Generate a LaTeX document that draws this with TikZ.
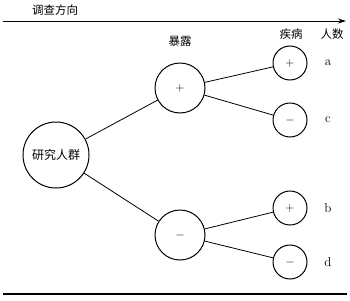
\documentclass[tikz,border=0pt]{standalone}
\usepackage{fontspec}
\newfontfamily\cjk{Noto Sans CJK SC}[Scale=1]
\usetikzlibrary{arrows.meta}
\begin{document}
\begin{tikzpicture}[x=1pt,y=-1pt,
  circ/.style={draw,circle,line width=1pt,inner sep=0pt},
  big/.style={circ,minimum size=66pt},
  mid/.style={circ,minimum size=50pt},
  small/.style={circ,minimum size=34pt},
  lbl/.style={font=\cjk\fontsize{11.5}{12}\selectfont,inner sep=0pt},
  sym/.style={font=\fontsize{12}{12}\selectfont},
  cnt/.style={font=\fontsize{13}{14}\selectfont,inner sep=0pt},
  conn/.style={line width=0.8pt}]
\useasboundingbox (0,0) rectangle (350,300);
\fill[white] (0,0) rectangle (350,300);
% direction arrow
\coordinate (as) at (3,21);
\coordinate (ae) at (346,21);
\draw[line width=1pt,-{Stealth[length=8pt,width=5pt]}] (as) -- (ae);
\node[lbl] (dir) at (55,10) {调查方向};
\node[lbl] (exp) at (180,41) {暴露};
\node[lbl] (dis) at (291,34) {疾病};
\node[lbl] (num) at (332,34) {人数};
% circles
\node[big,font=\cjk\fontsize{12}{12}\selectfont] (pop) at (56,155) {研究人群};
\node[mid,sym] (ep) at (180,88) {$+$};
\node[mid,sym] (em) at (180,235) {$-$};
\node[small,sym] (a1) at (290,63) {$+$};
\node[small,sym] (c1) at (290,120) {$-$};
\node[small,sym] (b1) at (290,208) {$+$};
\node[small,sym] (d1) at (290,262) {$-$};
\node[cnt] (la) at (328,63) {a};
\node[cnt] (lc) at (328,120) {c};
\node[cnt] (lb) at (328,208) {b};
\node[cnt] (ld) at (328,262) {d};
% connectors
\draw[conn] (pop) -- (ep);
\draw[conn] (pop) -- (em);
\draw[conn] (ep) -- (a1);
\draw[conn] (ep) -- (c1);
\draw[conn] (em) -- (b1);
\draw[conn] (em) -- (d1);
% bottom rule
\coordinate (bl) at (3,294);
\coordinate (br) at (347,294);
\draw[line width=1.2pt] (bl) -- (br);
\end{tikzpicture}
\end{document}
